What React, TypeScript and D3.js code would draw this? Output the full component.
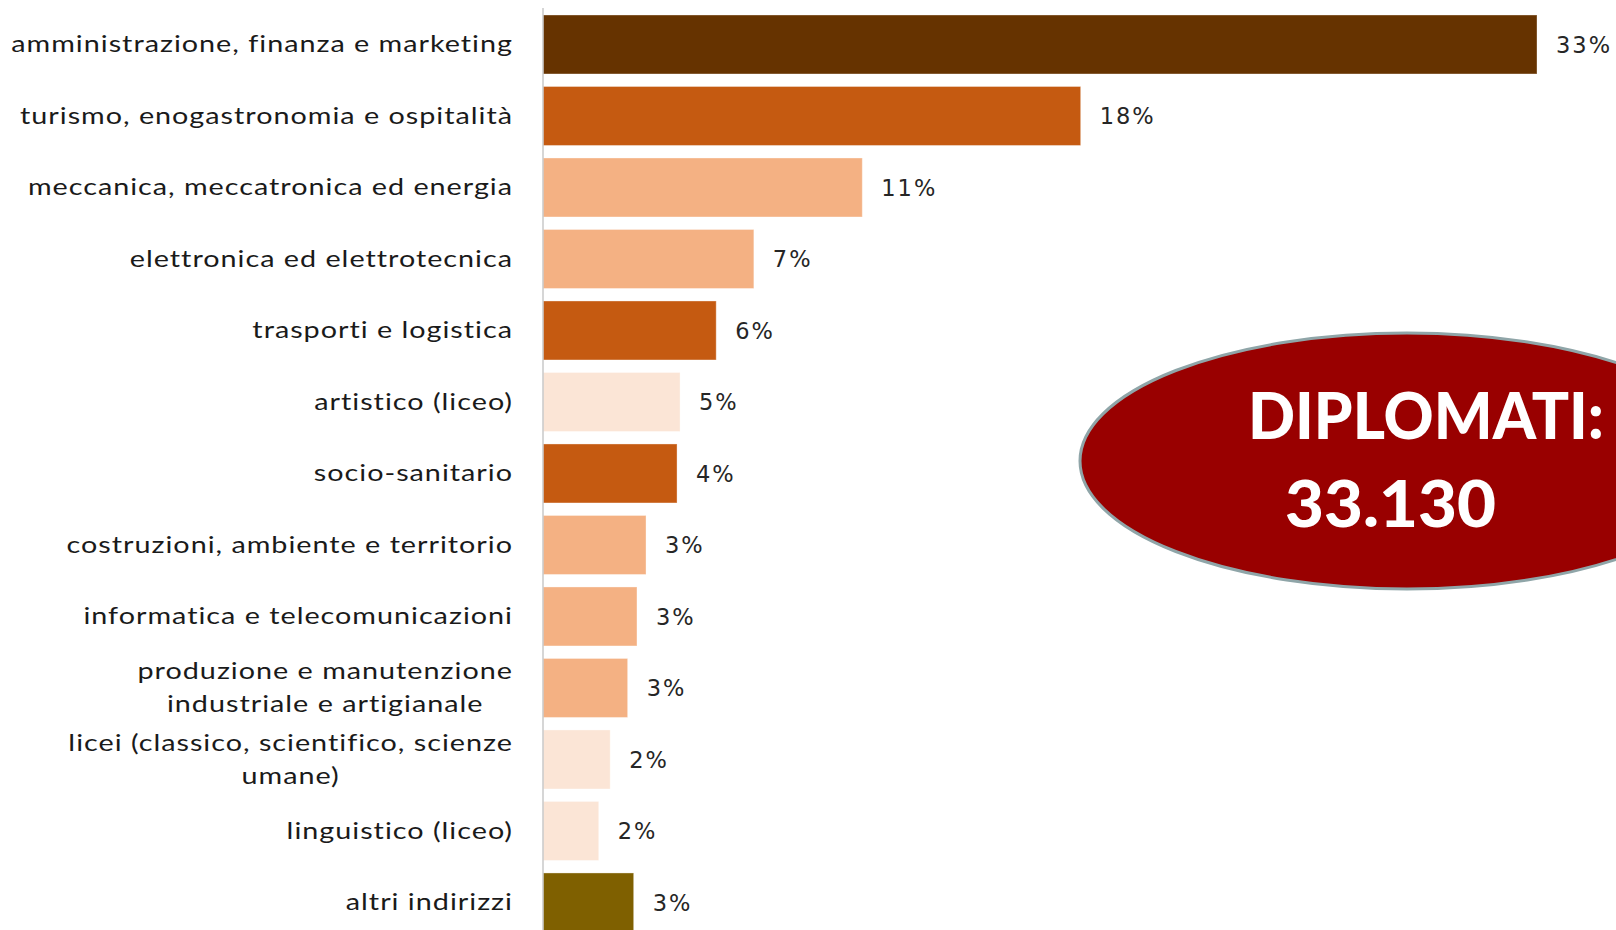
import React from "react";
import * as d3 from "d3";

const categories: string[][] = [
  ["amministrazione, finanza e marketing"],
  ["turismo, enogastronomia e ospitalità"],
  ["meccanica, meccatronica ed energia"],
  ["elettronica ed elettrotecnica"],
  ["trasporti e logistica"],
  ["artistico (liceo)"],
  ["socio-sanitario"],
  ["costruzioni, ambiente e territorio"],
  ["informatica e telecomunicazioni"],
  ["produzione e manutenzione", "industriale e artigianale"],
  ["licei (classico, scientifico, scienze", "umane)"],
  ["linguistico (liceo)"],
  ["altri indirizzi"],
];
const values: number[] = [33, 17.85, 10.6, 7.0, 5.75, 4.55, 4.45, 3.42, 3.12, 2.81, 2.23, 1.85, 3.01];
const valueLabels: string[] = ["33%", "18%", "11%", "7%", "6%", "5%", "4%", "3%", "3%", "3%", "2%", "2%", "3%"];
const barColors: string[] = [
  "#663300", "#C55A11", "#F4B183", "#F4B183", "#C55A11", "#FBE5D6", "#C55A11",
  "#F4B183", "#F4B183", "#F4B183", "#FBE5D6", "#FBE5D6", "#7F6000",
];
const calloutTitle = "DIPLOMATI:";
const calloutValue = "33.130";

const LABEL_SIZE = 23;
const LABEL_SPACING = 0.8;
const LABEL_SCALE = 1.25;

let ctx: CanvasRenderingContext2D | null = null;
function measure(s: string): number {
  if (!ctx) {
    const c = document.createElement("canvas");
    ctx = c.getContext("2d");
  }
  if (!ctx) return s.length * LABEL_SIZE * 0.5;
  ctx.font = `${LABEL_SIZE}px Lato`;
  return (ctx.measureText(s).width + LABEL_SPACING * s.length) * LABEL_SCALE;
}

export default function App() {
  const W = 1616, H = 930;
  const keys = categories.map((c) => c.join(" "));
  const y = d3.scaleBand<string>().domain(keys).range([8.74, 938.2]).paddingInner(0.175).paddingOuter(0.0875);
  const x = d3.scaleLinear().domain([0, 33]).range([543, 1537]);
  const labelRight = 513;
  const lineGap = 33;
  const labelFont = { fontFamily: "Lato", fontSize: LABEL_SIZE, letterSpacing: LABEL_SPACING, fill: "#1a1a1a" };
  return (
    <svg width={W} height={H} style={{ position: "absolute", left: 0, top: 0, background: "#ffffff" }}>
      <rect x={0} y={0} width={W} height={H} fill="#ffffff" />
      {keys.map((k, i) => {
        const y0 = y(k)!;
        const bh = y.bandwidth();
        const cy = y0 + bh / 2;
        const lines = categories[i];
        const maxW = lines.length > 1 ? Math.max(...lines.map(measure)) : 0;
        const cx = labelRight - maxW / 2;
        return (
          <g key={k}>
            <rect x={x(0)} y={y0} width={x(values[i]) - x(0)} height={bh} fill={barColors[i]} stroke="rgba(255,255,255,0.35)" strokeWidth={1} />
            <text x={x(values[i]) + 19} y={cy + 8.5} fontFamily="DejaVu Sans" fontSize={22.5} letterSpacing={2} fill="#262626">
              {valueLabels[i]}
            </text>
            {lines.length === 1 ? (
              <g transform={`translate(${labelRight},${cy + 8}) scale(${LABEL_SCALE},1)`}>
                <text x={0} y={0} textAnchor="end" {...labelFont}>
                  {lines[0]}
                </text>
              </g>
            ) : (
              lines.map((ln, j) => (
                <g key={j} transform={`translate(${cx},${cy + 8 + (j - (lines.length - 1) / 2) * lineGap}) scale(${LABEL_SCALE},1)`}>
                  <text x={0} y={0} textAnchor="middle" {...labelFont}>
                    {ln}
                  </text>
                </g>
              ))
            )}
          </g>
        );
      })}
      <line x1={543} x2={543} y1={8} y2={H} stroke="#C8C8C8" strokeWidth={1.5} />
      <ellipse cx={1407} cy={461} rx={327} ry={128} fill="#990000" stroke="#8FA5A8" strokeWidth={3} />
      <text x={1248} y={439} fontFamily="Lato" fontWeight={900} fontSize={65} textLength={356} lengthAdjust="spacingAndGlyphs" fill="#ffffff">
        {calloutTitle}
      </text>
      <text x={1285} y={527} fontFamily="Lato" fontWeight={900} fontSize={65} textLength={211} lengthAdjust="spacingAndGlyphs" fill="#ffffff">
        {calloutValue}
      </text>
    </svg>
  );
}
